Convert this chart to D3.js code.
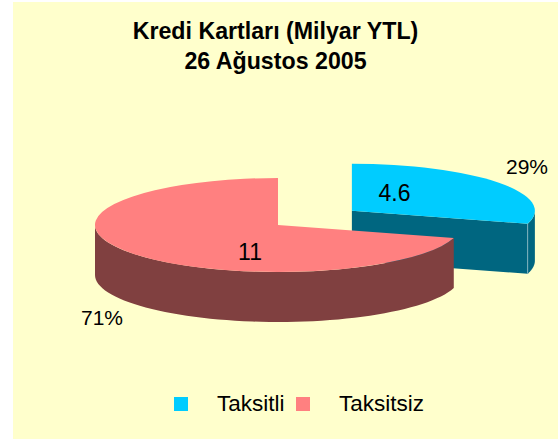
<!DOCTYPE html>
<html>
<head>
<meta charset="utf-8">
<script src="https://cdn.jsdelivr.net/npm/d3@7"></script>
<style>
html, body { margin: 0; padding: 0; background: #fff; }
svg { display: block; }
text { font-family: "Liberation Sans", Arial, sans-serif; fill: #000; }
</style>
</head>
<body>
<div id="chart"></div>
<script>
// data
var categories = ["Taksitli", "Taksitsiz"];
var values = [4.6, 11];
var valueLabels = ["4.6", "11"];
var percentLabels = ["29%", "71%"];
var titleLines = ["Kredi Kartları (Milyar YTL)", "26 Ağustos 2005"];

var width = 558, height = 439;

// colours
var topColors = ["#00CCFF", "#FF8080"];
var sideColors = ["#006680", "#804040"];
var edgeColors = ["#7FB3BF", "none"];

// pie geometry
var cx = 278, cy = 225,
    rx = 183, ry = 47,
    depth = 50,
    explode = [0.505, 0];

var svg = d3.select("#chart")
  .append("svg")
    .attr("width", width)
    .attr("height", height);

// background panel
svg.append("rect")
  .attr("x", 13)
  .attr("y", 2)
  .attr("width", width - 13)
  .attr("height", height - 2)
  .attr("fill", "#FFFFCC");

// title
svg.selectAll(".title")
  .data(titleLines)
  .enter()
  .append("text")
    .attr("class", "title")
    .attr("x", 275.5)
    .attr("y", function(d, i) { return 39 + i * 30; })
    .attr("text-anchor", "middle")
    .style("font-size", "23.2px")
    .style("font-weight", "bold")
    .text(function(d) { return d; });

// slices, first one starts at 12 o'clock and goes clockwise
var pie = d3.pie().sort(null);
var slices = pie(values);

var arc = d3.arc().innerRadius(0).outerRadius(rx);

// point on the flattened circle, a = radians clockwise from the top
function px(a) { return rx * Math.sin(a); }
function py(a) { return -ry * Math.cos(a); }

function wallPath(a0, a1) {
  var pts = d3.range(0, 61).map(function(k) { return a0 + (a1 - a0) * k / 60; });
  var top = pts.map(function(a) { return [px(a), py(a)]; });
  var bottom = pts.slice().reverse().map(function(a) { return [px(a), py(a) + depth]; });
  return d3.line()(top.concat(bottom)) + "Z";
}

slices.forEach(function(s, i) {
  var mid = (s.startAngle + s.endAngle) / 2;
  var ox = cx + explode[i] * px(mid),
      oy = cy + explode[i] * py(mid);
  var g = svg.append("g")
    .attr("transform", "translate(" + ox + "," + oy + ")");

  // outer wall, only the part facing the viewer
  var a0 = Math.max(s.startAngle, Math.PI / 2),
      a1 = Math.min(s.endAngle, Math.PI * 1.5);
  g.append("path")
    .attr("d", wallPath(a0, a1))
    .attr("fill", sideColors[i]);

  // cut face at the end of the slice when it looks to the front
  if (s.endAngle > Math.PI / 2 && s.endAngle < Math.PI) {
    var ex = px(s.endAngle), ey = py(s.endAngle);
    g.append("path")
      .attr("d", d3.line()([[0, 0], [ex, ey], [ex, ey + depth], [0, depth]]) + "Z")
      .attr("fill", sideColors[i]);
    g.append("path")
      .attr("d", d3.line()([[ex, ey], [ex, ey + depth]]))
      .attr("fill", "none")
      .attr("stroke", edgeColors[i]);
  }

  // top face
  g.append("path")
    .attr("transform", "scale(1," + (ry / rx) + ")")
    .attr("d", arc(s))
    .attr("fill", topColors[i]);
});

// labels on the slices
var valuePos = [[394.5, 201], [250, 260]];
svg.selectAll(".value")
  .data(valueLabels)
  .enter()
  .append("text")
    .attr("class", "value")
    .attr("x", function(d, i) { return valuePos[i][0]; })
    .attr("y", function(d, i) { return valuePos[i][1]; })
    .attr("text-anchor", "middle")
    .style("font-size", "23px")
    .text(function(d) { return d; });

var percentPos = [[527, 174], [102, 325]];
svg.selectAll(".percent")
  .data(percentLabels)
  .enter()
  .append("text")
    .attr("class", "percent")
    .attr("x", function(d, i) { return percentPos[i][0]; })
    .attr("y", function(d, i) { return percentPos[i][1]; })
    .attr("text-anchor", "middle")
    .style("font-size", "21px")
    .text(function(d) { return d; });

// legend
var legendSwatchX = [174, 296], legendTextX = [217, 339];
var legend = svg.selectAll(".legend")
  .data(categories)
  .enter()
  .append("g")
    .attr("class", "legend");
legend.append("rect")
  .attr("x", function(d, i) { return legendSwatchX[i]; })
  .attr("y", 397)
  .attr("width", 14)
  .attr("height", 14)
  .attr("fill", function(d, i) { return topColors[i]; });
legend.append("text")
  .attr("x", function(d, i) { return legendTextX[i]; })
  .attr("y", 411)
  .style("font-size", "22.5px")
  .text(function(d) { return d; });
</script>
</body>
</html>
